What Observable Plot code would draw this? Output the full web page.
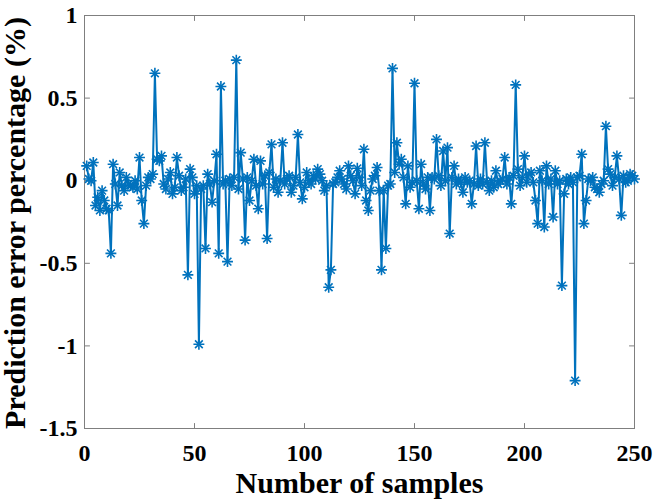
<!DOCTYPE html>
<html>
<head>
<meta charset="utf-8">
<script src="https://cdn.jsdelivr.net/npm/d3@7"></script>
<script src="https://cdn.jsdelivr.net/npm/@observablehq/plot@0.6"></script>
<style>
  html, body { margin: 0; padding: 0; background: #fff; }
</style>
</head>
<body>
<div id="chart"></div>
<script>
const xTicks = [0, 50, 100, 150, 200, 250];
const yTicks = [-1.5, -1, -0.5, 0, 0.5, 1];
const xLabel = "Number of samples";
const yLabel = "Prediction error percentage (%)";

const errors = [
  0.09, 0.01, 0.00, 0.11, -0.15, -0.10, -0.18, -0.06, -0.12, -0.17,
  -0.18, -0.44, 0.10, -0.02, -0.15, 0.05, -0.03, -0.06, 0.02, -0.02,
  -0.03, -0.04, 0.00, -0.05, 0.14, -0.12, -0.26, -0.03, 0.02, 0.01,
  0.04, 0.65, 0.13, 0.12, 0.15, -0.02, -0.05, 0.01, 0.05, -0.08,
  -0.04, 0.14, 0.03, -0.06, -0.04, 0.01, -0.57, 0.07, 0.02, -0.08,
  -0.03, -0.99, -0.05, -0.03, -0.41, 0.04, -0.02, -0.13, 0.00, 0.16,
  -0.44, 0.57, -0.02, 0.00, -0.49, 0.01, -0.03, 0.02, 0.73, -0.05,
  0.17, 0.01, -0.36, 0.02, -0.12, 0.00, 0.13, -0.03, -0.17, 0.12,
  -0.02, 0.03, -0.35, 0.05, 0.22, -0.04, 0.01, -0.07, 0.00, 0.23,
  -0.02, 0.01, 0.03, -0.07, -0.03, 0.02, 0.28, -0.01, -0.11, -0.04,
  0.05, 0.00, -0.02, 0.03, 0.01, 0.07, 0.04, 0.00, -0.06, -0.03,
  -0.645, -0.54, -0.02, -0.01, 0.02, 0.06, 0.01, -0.02, -0.05, 0.09,
  0.03, 0.00, -0.08, 0.075, 0.02, -0.03, 0.19, -0.12, -0.18, -0.06,
  0.01, 0.03, 0.08, -0.06, -0.54, -0.06, -0.41, -0.03, -0.02, 0.68,
  0.05, 0.23, 0.10, 0.13, 0.02, -0.14, 0.09, -0.04, -0.01, 0.59,
  0.00, -0.17, 0.10, -0.02, -0.05, 0.02, -0.18, 0.02, 0.01, 0.25,
  0.03, -0.03, 0.18, 0.00, 0.20, -0.32, 0.02, 0.09, -0.02, 0.01,
  -0.01, -0.07, 0.02, -0.01, 0.00, -0.14, -0.02, 0.21, -0.03, 0.01,
  -0.02, 0.23, -0.01, -0.06, 0.00, -0.04, 0.06, -0.02, 0.00, 0.01,
  0.14, -0.02, 0.02, -0.14, 0.03, 0.58, 0.07, -0.03, 0.02, 0.15,
  -0.01, 0.04, 0.05, -0.01, -0.12, -0.26, 0.06, 0.00, -0.28, 0.09,
  -0.02, 0.01, -0.22, 0.06, -0.02, 0.00, -0.635, -0.08, 0.01, -0.02,
  0.02, -0.01, -1.21, 0.02, 0.03, 0.16, -0.26, -0.12, 0.01, 0.00,
  0.02, -0.04, -0.05, -0.07, -0.02, 0.00, 0.33, 0.07, 0.04, -0.03,
  0.02, 0.15, 0.01, -0.21, 0.03, -0.01, 0.00, 0.04, 0.03, 0.01
];
const samples = errors.map((_, i) => i + 1);
const data = samples.map((s, i) => ({s, e: errors[i]}));

const blue = "#0072BD";
const axisGray = "#7f7f7f";
const font = "'Liberation Serif', 'Times New Roman', Times, serif";
const tickShape = {draw(context, l) { context.moveTo(0, 0); context.lineTo(0, -l); }};
const tickLen = 5;

const chart = Plot.plot({
  width: 657,
  height: 503,
  marginLeft: 84,
  marginRight: 23,
  marginTop: 15,
  marginBottom: 75,
  style: {fontFamily: font, fontWeight: "bold", background: "#fff", color: "#000"},
  x: {domain: [0, 250]},
  y: {domain: [-1.5, 1]},
  marks: [
    Plot.axisX(xTicks, {tickSize: 0, tickPadding: 15, fontSize: 24, fontWeight: "bold", label: null, tickFormat: d => String(d)}),
    Plot.axisY(yTicks, {tickSize: 0, tickPadding: 7, fontSize: 24, fontWeight: "bold", label: null, tickFormat: d => String(d)}),
    Plot.vector(xTicks, {x: d => d, y: -1.5, length: tickLen, rotate: 0, anchor: "start", shape: tickShape, stroke: axisGray, strokeWidth: 1}),
    Plot.vector(xTicks, {x: d => d, y: 1, length: tickLen, rotate: 180, anchor: "start", shape: tickShape, stroke: axisGray, strokeWidth: 1}),
    Plot.vector(yTicks, {x: 0, y: d => d, length: tickLen, rotate: 90, anchor: "start", shape: tickShape, stroke: axisGray, strokeWidth: 1}),
    Plot.vector(yTicks, {x: 250, y: d => d, length: tickLen, rotate: -90, anchor: "start", shape: tickShape, stroke: axisGray, strokeWidth: 1}),
    Plot.frame({stroke: axisGray, strokeWidth: 1}),
    Plot.line(data, {x: "s", y: "e", stroke: blue, strokeWidth: 2}),
    Plot.dot(data, {x: "s", y: "e", symbol: "plus", r: 3.6, stroke: blue, strokeWidth: 1.6}),
    Plot.dot(data, {x: "s", y: "e", symbol: "times", r: 3.6, stroke: blue, strokeWidth: 1.6}),
    Plot.text([xLabel], {text: d => d, frameAnchor: "bottom", textAnchor: "middle", lineAnchor: "middle", dy: 54.5, fontSize: 30, fontWeight: "bold", fill: "#000"}),
    Plot.text([yLabel], {text: d => d, frameAnchor: "left", textAnchor: "middle", lineAnchor: "middle", dx: -69.5, dy: 1, rotate: -90, fontSize: 30, fontWeight: "bold", fill: "#000"})
  ]
});
document.getElementById("chart").appendChild(chart);
</script>
</body>
</html>
